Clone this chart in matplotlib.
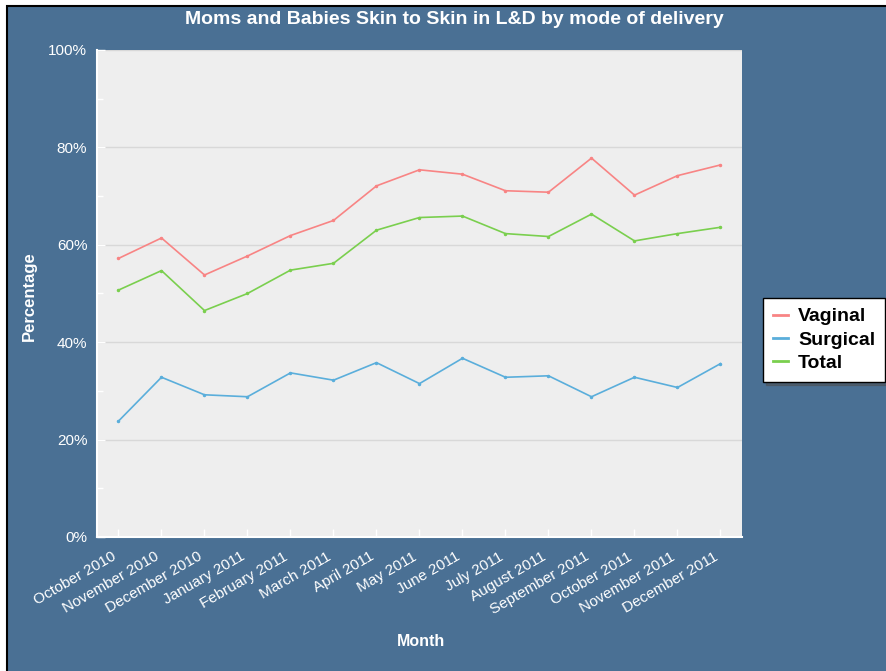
import matplotlib
matplotlib.use("Agg")
import matplotlib.pyplot as plt
from matplotlib.patches import Rectangle
from matplotlib.ticker import MultipleLocator, FuncFormatter
from matplotlib.transforms import ScaledTranslation

plt.rcParams['font.family'] = ['Liberation Sans', 'DejaVu Sans']

months = ["October 2010", "November 2010", "December 2010", "January 2011",
          "February 2011", "March 2011", "April 2011", "May 2011", "June 2011",
          "July 2011", "August 2011", "September 2011", "October 2011",
          "November 2011", "December 2011"]
vaginal = [57.2, 61.4, 53.8, 57.7, 61.9, 65.0, 72.1, 75.4, 74.5, 71.1, 70.8, 77.8, 70.2, 74.2, 76.4]
surgical = [23.8, 32.8, 29.2, 28.8, 33.7, 32.2, 35.8, 31.5, 36.7, 32.8, 33.1, 28.8, 32.8, 30.7, 35.6]
total = [50.7, 54.7, 46.5, 50.0, 54.8, 56.2, 63.0, 65.6, 65.9, 62.3, 61.7, 66.3, 60.8, 62.3, 63.6]
series_names = ["Vaginal", "Surgical", "Total"]

W, H = 887, 671
fig = plt.figure(figsize=(W / 100, H / 100), dpi=100, facecolor='white')
bg = '#4A7094'
fig.patches.append(Rectangle((7 / W, -0.1), 1.2, 1 - 6 / H + 0.1, transform=fig.transFigure,
                             facecolor=bg, edgecolor='black', linewidth=1.5, zorder=-10))

ax = fig.add_axes([97 / W, 1 - 537 / H, (742 - 97) / W, (537 - 50) / H])
ax.set_facecolor('#EEEEEE')
x = list(range(len(months)))
colors = ['#F88484', '#5AAEDB', '#7ACF4E']
for vals, name, c in zip([vaginal, surgical, total], series_names, colors):
    ax.plot(x, vals, color=c, lw=1.2, marker='o', ms=1.5, label=name, zorder=3)

ax.set_xlim(-0.5, len(months) - 0.5)
ax.set_ylim(0, 100)
ax.yaxis.set_major_locator(MultipleLocator(20))
ax.yaxis.set_minor_locator(MultipleLocator(10))
ax.yaxis.set_major_formatter(FuncFormatter(lambda v, p: f"{int(v)}%"))
ax.grid(axis='y', which='major', color='#D8D8D8', lw=1)
ax.set_axisbelow(True)
ax.set_xticks(x)
ax.set_xticklabels(months, rotation=30, ha='right', rotation_mode='anchor')
ax.tick_params(axis='both', which='both', direction='in', colors='white', labelcolor='white',
               labelsize=11)
ax.tick_params(axis='y', which='major', length=6, width=1, pad=7)
ax.tick_params(axis='y', which='minor', length=4, width=1)
ax.tick_params(axis='x', which='major', length=6, width=1, pad=9)
shift = ScaledTranslation(-7 / 100, 0, fig.dpi_scale_trans)
for lbl in ax.get_xticklabels():
    lbl.set_transform(lbl.get_transform() + shift)
for s in ['top', 'right']:
    ax.spines[s].set_visible(False)
for s in ['left', 'bottom']:
    ax.spines[s].set_color('white')
    ax.spines[s].set_linewidth(1.5)

fig.text(454 / W, 1 - 20 / H, "Moms and Babies Skin to Skin in L&D by mode of delivery",
         color='white', fontsize=14, fontweight='bold', ha='center', va='center')
fig.text(29 / W, 1 - 296 / H, "Percentage", color='white', fontsize=12, fontweight='bold',
         rotation=90, ha='center', va='center')
fig.text(421 / W, 1 - 642 / H, "Month", color='white', fontsize=11.5, fontweight='bold',
         ha='center', va='center')

leg = fig.legend(loc='upper left', bbox_to_anchor=(763 / W, 1 - 298 / H), frameon=True,
                 fancybox=False, shadow=True, handlelength=0.8, handletextpad=0.5,
                 borderpad=0.5, labelspacing=0.3, prop={'weight': 'bold', 'size': 14},
                 borderaxespad=0)
leg.get_frame().set_edgecolor('black')
leg.get_frame().set_linewidth(1)
for h in leg.legend_handles:
    h.set_marker('')
    h.set_linewidth(2)

fig.savefig('out.png', dpi=100, facecolor=fig.get_facecolor())
